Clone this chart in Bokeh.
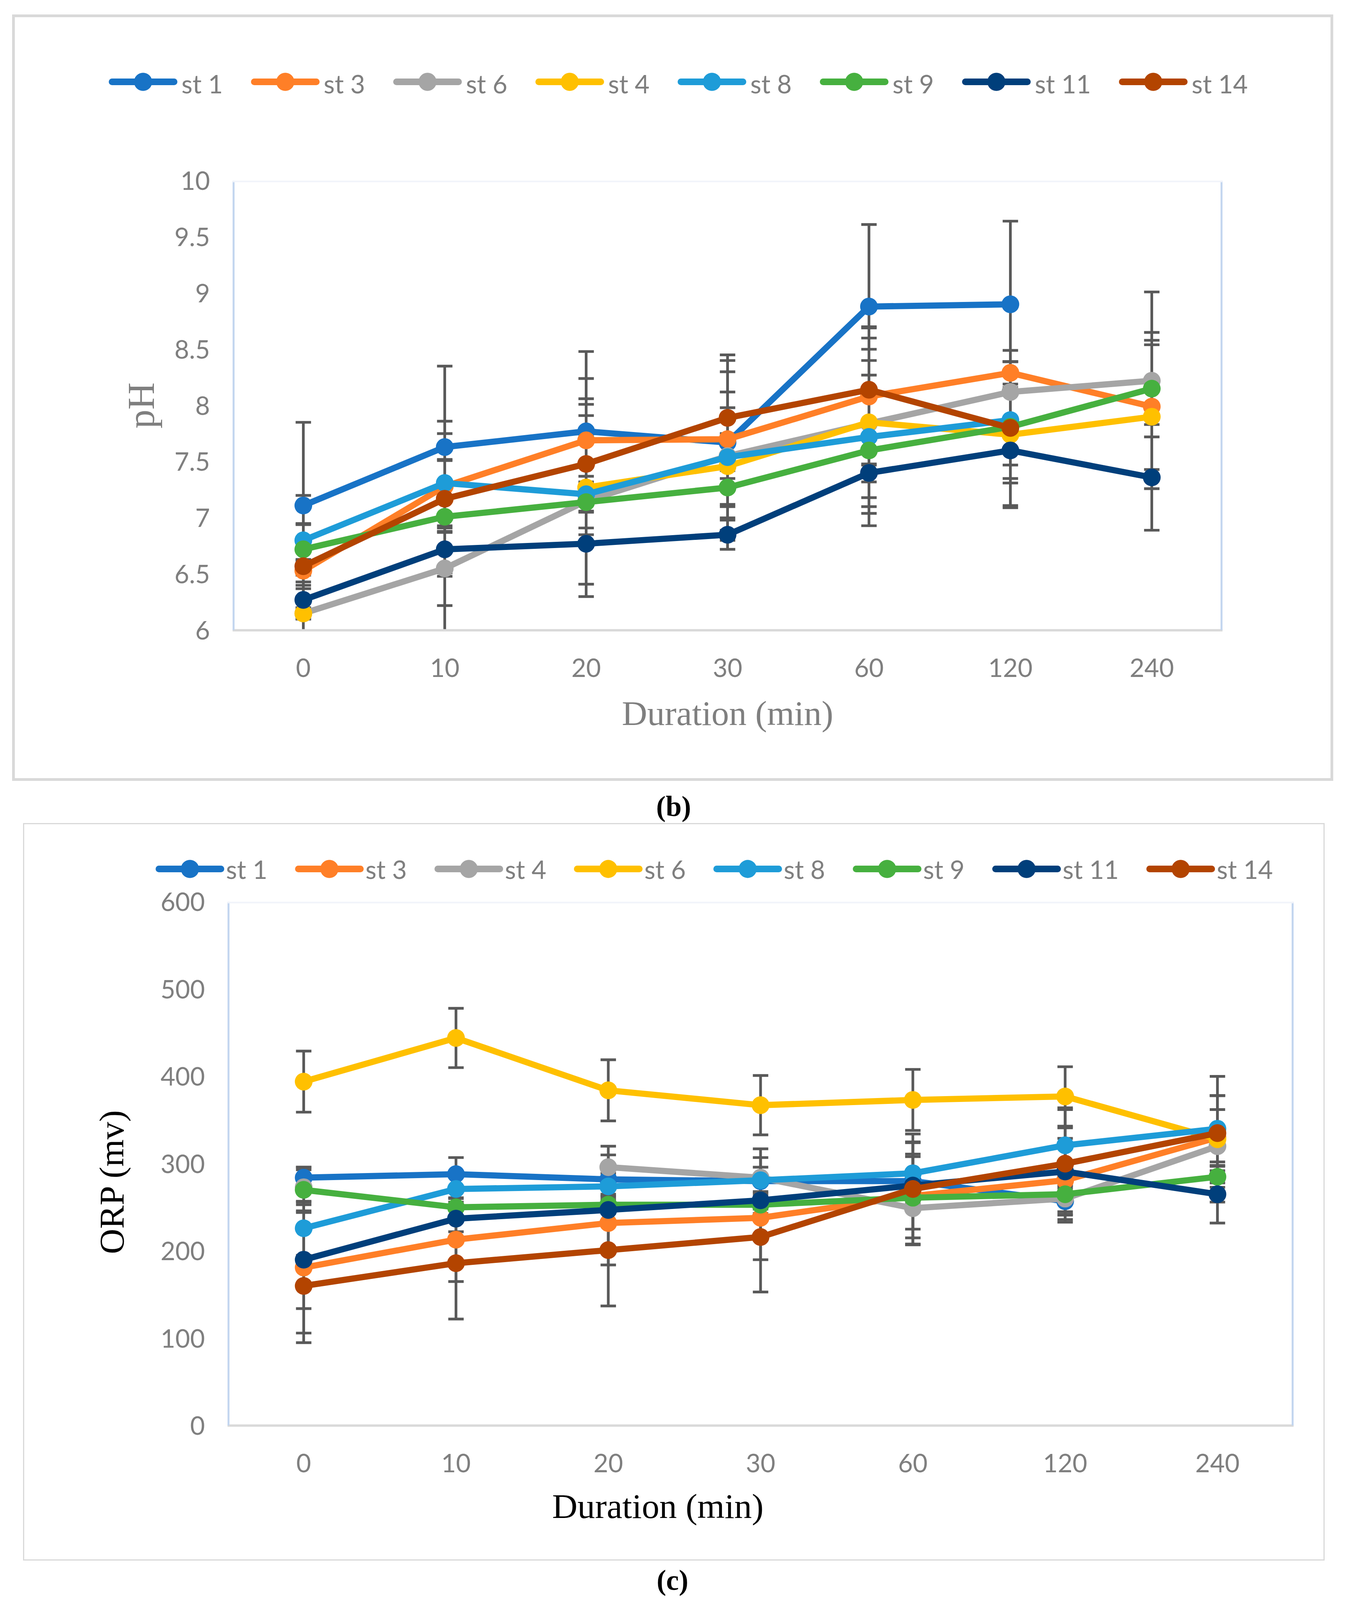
import math
import numpy as np
from bokeh.plotting import figure
from bokeh.models import (FactorRange, Range1d, FixedTicker, Label, Span, ColumnDataSource,
                          CustomJSTickFormatter, Title, Spacer)
from bokeh.layouts import column, row
from bokeh.core.properties import value
from bokeh.embed import file_html
from bokeh.resources import INLINE

nan = float("nan")

durations = ["0", "10", "20", "30", "60", "120", "240"]

# ---------------- pH chart (b) ----------------
ph_names = ["st 1", "st 3", "st 6", "st 4", "st 8", "st 9", "st 11", "st 14"]
ph_st1 = [7.11, 7.63, 7.77, 7.67, 8.88, 8.90, nan]
ph_st3 = [6.53, 7.28, 7.69, 7.70, 8.08, 8.29, 7.99]
ph_st6 = [6.15, 6.55, 7.15, 7.55, 7.84, 8.12, 8.22]
ph_st4 = [6.15, nan, 7.27, 7.46, 7.85, 7.74, 7.90]
ph_st8 = [6.80, 7.31, 7.21, 7.54, 7.72, 7.87, nan]
ph_st9 = [6.72, 7.01, 7.14, 7.27, 7.60, 7.81, 8.15]
ph_st11 = [6.27, 6.72, 6.77, 6.85, 7.40, 7.60, 7.36]
ph_st14 = [6.57, 7.17, 7.48, 7.89, 8.14, 7.80, nan]

ph_err_st1 = [0.74, 0.72, 0.71, 0.78, 0.73, 0.74, nan]
ph_err_st3 = [0.10, 0.35, 0.37, 0.70, 0.61, 0.10, 0.66]
ph_err_st6 = [0.05, 0.33, 0.30, 0.20, 0.66, 0.27, 0.79]
ph_err_st4 = [0.05, nan, 0.97, 0.66, 0.75, 0.65, 0.64]
ph_err_st8 = [0.40, 0.44, 0.80, 0.44, 0.68, 0.52, nan]
ph_err_st9 = [0.23, 0.50, 0.23, 0.15, 0.67, 0.50, 0.43]
ph_err_st11 = [0.67, 0.80, 0.36, 0.13, 0.08, 0.13, 0.47]
ph_err_st14 = [0.05, 0.69, 0.43, 0.41, 0.56, 0.69, nan]

ph_ticks = [6, 6.5, 7, 7.5, 8, 8.5, 9, 9.5, 10]

# ---------------- ORP chart (c) ----------------
orp_names = ["st 1", "st 3", "st 4", "st 6", "st 8", "st 9", "st 11", "st 14"]
orp_st1 = [284, 288, 282, 280, 280, 257, nan]
orp_st3 = [181, 213, 232, 238, 263, 281, 330]
orp_st4 = [273, nan, 296, 284, 249, 260, 320]
orp_st6 = [394, 444, 384, 367, 373, 377, 328]
orp_st8 = [226, 271, 274, 281, 289, 321, 340]
orp_st9 = [270, 250, 253, 253, 261, 265, 285]
orp_st11 = [190, 237, 247, 258, 275, 291, 265]
orp_st14 = [160, 186, 201, 216, 271, 300, 335]

orp_err_st1 = [12, 19, 28, 27, 28, 15, nan]
orp_err_st3 = [75, 48, 48, 48, 48, 48, 48]
orp_err_st4 = [20, nan, 24, 33, 42, 15, 42]
orp_err_st6 = [35, 34, 35, 34, 35, 34, 72]
orp_err_st8 = [31, 15, 15, 15, 35, 41, 38]
orp_err_st9 = [26, 10, 10, 10, 10, 10, 12]
orp_err_st11 = [56, 15, 15, 10, 50, 50, 33]
orp_err_st14 = [65, 64, 64, 63, 63, 64, 43]

orp_ticks = [0, 100, 200, 300, 400, 500, 600]

colors = ["#1873C6", "#FF7F27", "#A5A5A5", "#FFC000", "#1E9CD8", "#46B03F", "#003F7B", "#B34400"]

TICK_FONT = "Lato"
SERIF = "Liberation Serif"
GRAY = "#7F7F7F"
ERR = "#595959"
BOX = "#D9D9D9"

# the page is photographed slightly enlarged; lay out in reduced CSS pixels
K = 1 / 1.013


def S(v):
    return int(round(v * K))


def fs(v):
    return "%.1fpx" % (v * K)


def no_align(f):
    if hasattr(f, "frame_align"):
        f.frame_align = False
    return f


def plain_fig(w, h):
    f = figure(width=w, height=h, min_border=0, toolbar_location=None, output_backend="svg",
               x_axis_location=None, y_axis_location=None,
               x_range=Range1d(0, w), y_range=Range1d(0, h))
    f.outline_line_color = None
    f.grid.visible = False
    return no_align(f)


def legend_fig(w, h, names, first_text_x, pitch, line_y, text_y, line_back, line_front, dot_back):
    # legend strip: line + dot symbol followed by the series name, in pixel coordinates
    f = plain_fig(w, h)
    tx = []
    for i, name in enumerate(names):
        extra = 38 * K if (len(name) > 4 and i == len(names) - 1) else 0
        tx.append(first_text_x + i * pitch + extra)
    tx = np.array(tx, dtype=float)
    n = len(tx)
    f.segment(x0=tx - line_back, y0=[line_y] * n, x1=tx - line_front, y1=[line_y] * n,
              line_color=colors, line_width=17 * K, line_cap="round")
    f.scatter(x=tx - dot_back, y=[line_y] * n, size=47 * K, fill_color=colors, line_color=None,
              marker="circle")
    f.text(x=tx, y=[text_y] * n, text=names, text_font=value(TICK_FONT),
           text_font_size=fs(66), text_color=GRAY, text_baseline="alphabetic",
           text_align="left")
    return f


def caption_fig(w, h, text, cx, cy_from_top):
    f = plain_fig(w, h)
    f.add_layout(Label(x=cx, y=h - cy_from_top, text=text, text_font=SERIF,
                       text_font_size=fs(74), text_font_style="bold", text_color="black",
                       text_align="center", text_baseline="middle"))
    return f


def main_fig(series, errors, ticks, ymin, ymax, w, h, fl, fw, ft, fh):
    p = figure(x_range=FactorRange(*durations), y_range=Range1d(ymin, ymax),
               frame_width=fw, frame_height=fh, min_border_left=fl, min_border_top=ft,
               min_border_right=w - fl - fw, min_border_bottom=h - ft - fh,
               output_backend="svg", toolbar_location=None)
    no_align(p)
    p.outline_line_color = None
    p.xgrid.grid_line_color = None
    p.ygrid.grid_line_color = None

    p.xaxis.axis_line_color = BOX
    p.xaxis.axis_line_width = 6 * K
    p.xaxis.major_tick_line_color = None
    p.xaxis.minor_tick_line_color = None
    p.xaxis.major_label_standoff = S(67)
    p.xaxis.major_label_text_font = TICK_FONT
    p.xaxis.major_label_text_font_size = fs(66)
    p.xaxis.major_label_text_color = GRAY

    p.yaxis.axis_line_color = None
    p.yaxis.major_tick_line_color = None
    p.yaxis.minor_tick_line_color = None
    p.yaxis.ticker = FixedTicker(ticks=ticks)
    p.yaxis.formatter = CustomJSTickFormatter(code="return tick.toString();")
    p.yaxis.major_label_standoff = S(53)
    p.yaxis.major_label_text_font = TICK_FONT
    p.yaxis.major_label_text_font_size = fs(66)
    p.yaxis.major_label_text_color = GRAY

    p.add_layout(Span(location=0, dimension="height", line_color="#C2D5EF", line_width=10 * K))
    p.add_layout(Span(location=7, dimension="height", line_color="#C2D5EF", line_width=10 * K))
    p.add_layout(Span(location=ymax, dimension="width", line_color="#F1F4FA", line_width=8 * K))

    ex, lo, hi = [], [], []
    for vals, errs in zip(series, errors):
        for d, v, e in zip(durations, vals, errs):
            if not (math.isnan(v) or math.isnan(e)):
                ex.append(d)
                lo.append(v - e)
                hi.append(v + e)
    esrc = ColumnDataSource(dict(x=ex, lo=lo, hi=hi))
    p.segment(x0="x", y0="lo", x1="x", y1="hi", source=esrc, line_color=ERR, line_width=7 * K)
    p.rect(x="x", y="lo", width=40 * K, height=7 * K, width_units="screen",
           height_units="screen", source=esrc, fill_color=ERR, line_color=None)
    p.rect(x="x", y="hi", width=40 * K, height=7 * K, width_units="screen",
           height_units="screen", source=esrc, fill_color=ERR, line_color=None)

    for vals, col in zip(series, colors):
        src = ColumnDataSource(dict(x=durations, y=np.array(vals, dtype=float)))
        p.line("x", "y", source=src, line_color=col, line_width=16 * K,
               line_join="round", line_cap="round")
        p.scatter("x", "y", source=src, size=46 * K, fill_color=col, line_color=None,
                  marker="circle")
    return p


# ---- chart (b)
ph_series = [ph_st1, ph_st3, ph_st6, ph_st4, ph_st8, ph_st9, ph_st11, ph_st14]
ph_errors = [ph_err_st1, ph_err_st3, ph_err_st6, ph_err_st4, ph_err_st8, ph_err_st9,
             ph_err_st11, ph_err_st14]
IN1 = S(3412)
LEG1_H = S(248)
P1_H = S(1725)
leg1 = legend_fig(IN1, LEG1_H, ph_names, S(432), 368.8 * K, LEG1_H - S(167), LEG1_H - S(171),
                  180 * K, 19 * K, 99.5 * K)
p1 = main_fig(ph_series, ph_errors, ph_ticks, 6, 10, IN1, P1_H, S(564), S(2567), S(175), S(1166))
p1.xaxis.axis_label = "Duration (min)"
p1.xaxis.axis_label_text_font = SERIF
p1.xaxis.axis_label_text_font_size = fs(91)
p1.xaxis.axis_label_text_font_style = "normal"
p1.xaxis.axis_label_text_color = GRAY
p1.xaxis.axis_label_standoff = S(41)
p1.yaxis.axis_label = "pH"
p1.yaxis.axis_label_text_font = SERIF
p1.yaxis.axis_label_text_font_size = fs(98)
p1.yaxis.axis_label_text_font_style = "normal"
p1.yaxis.axis_label_text_color = GRAY
p1.yaxis.axis_label_standoff = S(28)

box_b = column(leg1, p1, styles={"border": "7px solid " + BOX})
H_B = LEG1_H + P1_H + 14
CAP_B_H = S(109)
cap_b = caption_fig(S(3486), CAP_B_H, "(b)", S(1746), S(66))

# ---- chart (c)
orp_series = [orp_st1, orp_st3, orp_st4, orp_st6, orp_st8, orp_st9, orp_st11, orp_st14]
orp_errors = [orp_err_st1, orp_err_st3, orp_err_st4, orp_err_st6, orp_err_st8, orp_err_st9,
              orp_err_st11, orp_err_st14]
IN2 = S(3369)
LEG2_H = S(158)
P2_H = S(1748)
leg2 = legend_fig(IN2, LEG2_H, orp_names, S(523), 361.6 * K, LEG2_H - S(115), LEG2_H - S(115),
                  174 * K, 13 * K, 93.5 * K)
p2 = main_fig(orp_series, orp_errors, orp_ticks, 0, 600, IN2, P2_H, S(527), S(2764), S(43),
              S(1358))
yt = Title(text="ORP (mv)", align="left", offset=S(445), text_font=SERIF,
           text_font_size=fs(91), text_font_style="normal", text_color="black")
if hasattr(yt, "standoff"):
    yt.standoff = S(150)
p2.add_layout(yt, "left")
xt = Title(text="Duration (min)", align="left", offset=S(842), text_font=SERIF,
           text_font_size=fs(91), text_font_style="normal", text_color="black")
if hasattr(xt, "standoff"):
    xt.standoff = S(66)
p2.add_layout(xt, "below")

box_c = column(leg2, p2, styles={"border": "3px solid " + BOX})
H_C = LEG2_H + P2_H + 6
TOP = S(37)
used = TOP + H_B + CAP_B_H + H_C
CAP_C_H = min(94, 4092 - used)
cap_c = caption_fig(S(3486), CAP_C_H, "(c)", S(1743), 50)

layout = column(Spacer(width=S(3486), height=TOP),
                row(Spacer(width=S(31), height=H_B), box_b),
                cap_b,
                row(Spacer(width=S(60), height=H_C), box_c),
                cap_c)
open("out.html", "w").write(file_html(layout, INLINE))
